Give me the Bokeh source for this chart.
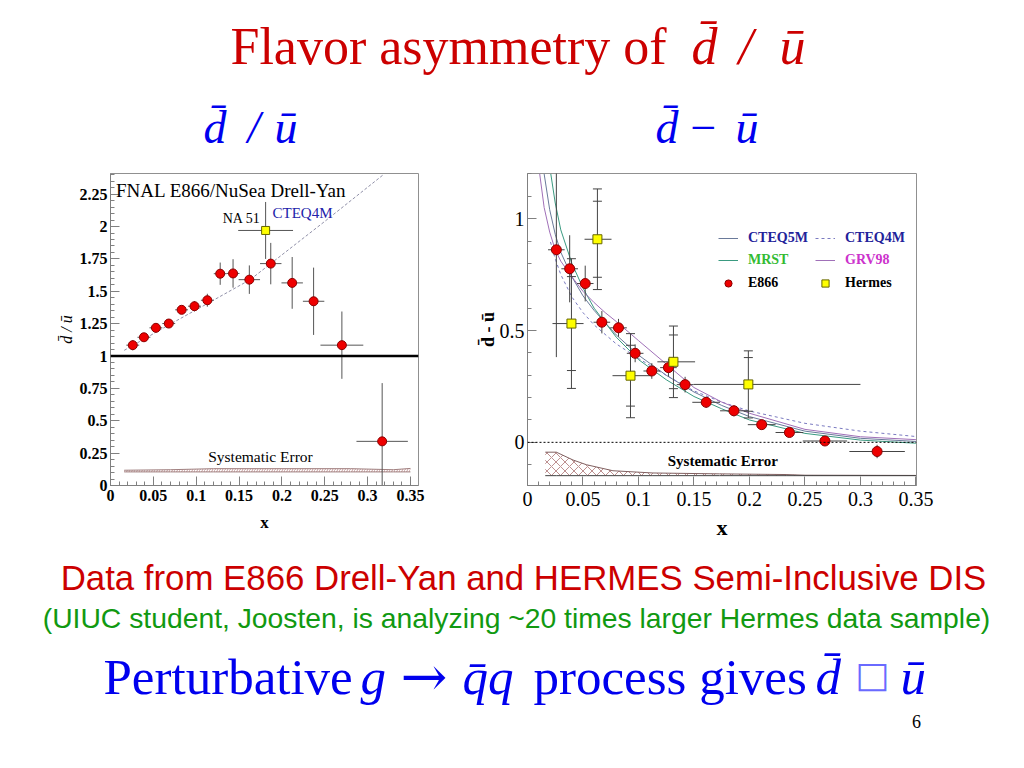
from bokeh.plotting import figure
from bokeh.models import (Range1d, Label, Span, FixedTicker, ColumnDataSource,
                          Legend, LegendItem)
from bokeh.layouts import column, row
from bokeh.embed import file_html
from bokeh.resources import INLINE

# ---------------- data ----------------
# left panel: dbar/ubar (E866)
l_x = [0.026, 0.039, 0.053, 0.068, 0.083, 0.098, 0.113, 0.128, 0.143, 0.162, 0.187, 0.212, 0.237, 0.270, 0.317]
l_y = [1.084, 1.145, 1.218, 1.251, 1.357, 1.385, 1.431, 1.636, 1.638, 1.590, 1.714, 1.565, 1.423, 1.084, 0.341]
l_yerr = [0.04, 0.03, 0.03, 0.03, 0.03, 0.04, 0.05, 0.086, 0.11, 0.11, 0.16, 0.20, 0.26, 0.26, 0.45]
l_xerr = [0.0075, 0.0075, 0.0075, 0.0075, 0.0075, 0.0075, 0.0075, 0.0075, 0.0075, 0.0125, 0.0125, 0.0125, 0.0125, 0.025, 0.03]
# NA51
na51_x = [0.181]
na51_y = [1.97]
na51_yerr = [0.22]
na51_xerr = [0.032]
# CTEQ4M ratio curve
l_cteq4m_x = [0.016, 0.068, 0.113, 0.163, 0.187, 0.25, 0.319]
l_cteq4m_y = [1.044, 1.24, 1.405, 1.59, 1.714, 2.04, 2.404]
# systematic error band (left)
l_sys_x = [0.016, 0.07, 0.12, 0.28, 0.33, 0.35]
l_sys_top = [0.118, 0.122, 0.13, 0.13, 0.122, 0.132]
l_sys_bot = [0.105, 0.105, 0.105, 0.105, 0.105, 0.105]

# right panel: dbar - ubar
r_x = [0.026, 0.038, 0.052, 0.067, 0.082, 0.097, 0.112, 0.127, 0.142, 0.161, 0.186, 0.211, 0.236, 0.268, 0.315]
r_y = [0.861, 0.776, 0.710, 0.537, 0.512, 0.398, 0.319, 0.334, 0.258, 0.179, 0.141, 0.079, 0.044, 0.006, -0.041]
r_yerr = [0.48, 0.15, 0.08, 0.05, 0.04, 0.04, 0.035, 0.04, 0.035, 0.025, 0.025, 0.02, 0.015, 0.015, 0.03]
r_xerr = [0.0075, 0.0075, 0.0075, 0.0075, 0.0075, 0.0075, 0.0075, 0.0075, 0.0075, 0.0125, 0.0125, 0.0125, 0.0125, 0.02, 0.025]
# Hermes
h_x = [0.0396, 0.063, 0.0928, 0.1315, 0.199]
h_y = [0.531, 0.908, 0.298, 0.36, 0.259]
h_stat = [0.21, 0.17, 0.136, 0.12, 0.12]
h_tot = [0.29, 0.225, 0.188, 0.16, 0.15]
h_xlo = [0.0225, 0.0514, 0.0766, 0.117, 0.1495]
h_xhi = [0.0505, 0.0757, 0.1117, 0.151, 0.30]
# parametrisations
grv98_x = [0.011, 0.015, 0.02, 0.025, 0.03, 0.04, 0.05, 0.06, 0.07, 0.08, 0.10, 0.125, 0.15, 0.175, 0.20, 0.25, 0.30, 0.35]
grv98_y = [1.20, 1.05, 0.94, 0.86, 0.81, 0.74, 0.675, 0.625, 0.58, 0.54, 0.455, 0.35, 0.245, 0.18, 0.13, 0.058, 0.025, 0.012]
cteq5m_x = [0.015, 0.02, 0.025, 0.03, 0.04, 0.05, 0.06, 0.08, 0.10, 0.125, 0.15, 0.175, 0.20, 0.25, 0.30, 0.35]
cteq5m_y = [1.20, 1.04, 0.93, 0.85, 0.74, 0.655, 0.59, 0.48, 0.39, 0.30, 0.225, 0.165, 0.115, 0.05, 0.018, 0.004]
mrst_x = [0.021, 0.025, 0.03, 0.04, 0.05, 0.06, 0.08, 0.10, 0.125, 0.15, 0.175, 0.20, 0.25, 0.30, 0.35]
mrst_y = [1.20, 1.07, 0.95, 0.80, 0.69, 0.60, 0.47, 0.37, 0.28, 0.205, 0.15, 0.10, 0.04, 0.01, -0.004]
cteq4m_x = [0.0207, 0.025, 0.03, 0.04, 0.05, 0.06, 0.08, 0.10, 0.125, 0.15, 0.175, 0.20, 0.25, 0.30, 0.35]
cteq4m_y = [0.896, 0.82, 0.75, 0.65, 0.58, 0.525, 0.44, 0.375, 0.30, 0.23, 0.18, 0.14, 0.085, 0.05, 0.026]
# systematic error band (right)
r_sys_x = [0.016, 0.026, 0.041, 0.053, 0.077, 0.113, 0.173, 0.233, 0.25, 0.35]
r_sys_top = [-0.044, -0.044, -0.079, -0.10, -0.127, -0.137, -0.141, -0.144, -0.147, -0.148]
r_sys_bot = [-0.149, -0.149, -0.149, -0.149, -0.149, -0.149, -0.149, -0.149, -0.149, -0.149]

# ticks
x_ticks = [0, 0.05, 0.1, 0.15, 0.2, 0.25, 0.3, 0.35]
x_tick_labels = ["0", "0.05", "0.1", "0.15", "0.2", "0.25", "0.3", "0.35"]
x_minor = [i * 0.01 for i in range(0, 37)]
l_y_ticks = [0, 0.25, 0.5, 0.75, 1, 1.25, 1.5, 1.75, 2, 2.25]
l_y_tick_labels = ["0", "0.25", "0.5", "0.75", "1", "1.25", "1.5", "1.75", "2", "2.25"]
l_y_minor = [i * 0.05 for i in range(0, 49)]
r_y_ticks = [0, 0.5, 1]
r_y_tick_labels = ["0", "0.5", "1"]
r_y_minor = [-0.2 + i * 0.1 for i in range(0, 15)]

SERIF = "Liberation Serif"
SANS = "Liberation Sans"
DBAR = "d\u0304"
UBAR = "\u016b"
QBAR = "q\u0304"


def canvas(w, h, x0, y0):
    p = figure(width=w, height=h, x_range=Range1d(x0, x0 + w), y_range=Range1d(y0 + h, y0),
               output_backend="svg", toolbar_location=None, min_border=0,
               x_axis_type=None, y_axis_type=None)
    p.outline_line_color = None
    p.background_fill_color = "white"
    p.border_fill_color = "white"
    return p


def lab(p, x, y, text, size, color, font=SERIF, style="normal", align="left", baseline="middle"):
    p.add_layout(Label(x=x, y=y, text=text, text_font=font, text_font_size=size,
                       text_color=color, text_font_style=style, text_align=align,
                       text_baseline=baseline))


# ---------------- top text canvas ----------------
top = canvas(1024, 160, 0, 0)
lab(top, 230, 46, "Flavor asymmetry of", "52px", "#cc0000")
lab(top, 691, 46, DBAR, "52px", "#cc0000", style="italic")
lab(top, 738, 46, "/", "52px", "#cc0000", style="italic")
lab(top, 779, 46, UBAR, "52px", "#cc0000", style="italic")
lab(top, 203, 127, DBAR, "46px", "#0000ee", style="italic")
lab(top, 247, 127, "/", "46px", "#0000ee", style="italic")
lab(top, 274, 127, UBAR, "46px", "#0000ee", style="italic")
lab(top, 655, 127, DBAR, "46px", "#0000ee", style="italic")
lab(top, 690, 127, "\u2212", "46px", "#0000ee")
lab(top, 735, 127, UBAR, "46px", "#0000ee", style="italic")


def style_axes(p, ysize, lsize, bold_ticks, ylab_size):
    for ax in (p.xaxis[0], p.yaxis[0]):
        ax.axis_line_color = "#808080"
        ax.major_tick_line_color = "#808080"
        ax.minor_tick_line_color = "#808080"
        ax.major_tick_in = 9
        ax.major_tick_out = 0
        ax.minor_tick_in = 4
        ax.minor_tick_out = 0
        ax.major_label_text_font = SERIF
        ax.major_label_text_font_size = ysize
        ax.major_label_text_font_style = "bold" if bold_ticks else "normal"
        ax.major_label_text_color = "black"
        ax.axis_label_text_font = SERIF
        ax.axis_label_text_color = "black"
    p.xaxis.axis_label_text_font_size = lsize
    p.xaxis.axis_label_text_font_style = "bold"
    p.yaxis.axis_label_text_font_size = ylab_size
    p.xgrid.visible = False
    p.ygrid.visible = False
    p.outline_line_color = "#909090"


# ---------------- left plot ----------------
left = figure(width=470, height=385, x_range=Range1d(0, 0.3594), y_range=Range1d(0, 2.41),
              output_backend="svg", toolbar_location=None,
              min_border_left=110, min_border_right=52, min_border_top=13, min_border_bottom=54)
style_axes(left, "16px", "17px", True, "16px")
left.xaxis.ticker = FixedTicker(ticks=x_ticks, minor_ticks=x_minor)
left.xaxis.major_label_overrides = dict(zip(x_ticks, x_tick_labels))
left.yaxis.ticker = FixedTicker(ticks=l_y_ticks, minor_ticks=l_y_minor)
left.yaxis.major_label_overrides = dict(zip(l_y_ticks, l_y_tick_labels))
left.xaxis.axis_label = "x"
left.yaxis.axis_label = DBAR + " / " + UBAR
left.xaxis.major_label_standoff = 4
left.yaxis.major_label_standoff = 3
left.xaxis.axis_label_standoff = 9
left.yaxis.axis_label_standoff = 2

left.varea(x=l_sys_x, y1=l_sys_bot, y2=l_sys_top, fill_alpha=0,
           hatch_pattern="right_diagonal_line", hatch_color="#b07070", hatch_scale=5, hatch_weight=0.7)
left.line(l_sys_x, l_sys_top, line_color="#a08080", line_width=1)
left.line(l_sys_x, l_sys_bot, line_color="#a08080", line_width=1)
left.add_layout(Span(location=1, dimension="width", line_color="black", line_width=2.5))
left.line(l_cteq4m_x, l_cteq4m_y, line_color="#9090a8", line_width=1, line_dash="3 2")

lsrc = ColumnDataSource(dict(x=l_x, y=l_y,
                             yl=[a - b for a, b in zip(l_y, l_yerr)], yh=[a + b for a, b in zip(l_y, l_yerr)],
                             xl=[a - b for a, b in zip(l_x, l_xerr)], xh=[a + b for a, b in zip(l_x, l_xerr)]))
left.segment(x0="x", y0="yl", x1="x", y1="yh", source=lsrc, line_color="#555555", line_width=1)
left.segment(x0="xl", y0="y", x1="xh", y1="y", source=lsrc, line_color="#555555", line_width=1)
nsrc = ColumnDataSource(dict(x=na51_x, y=na51_y,
                             yl=[a - b for a, b in zip(na51_y, na51_yerr)], yh=[a + b for a, b in zip(na51_y, na51_yerr)],
                             xl=[a - b for a, b in zip(na51_x, na51_xerr)], xh=[a + b for a, b in zip(na51_x, na51_xerr)]))
left.segment(x0="x", y0="yl", x1="x", y1="yh", source=nsrc, line_color="#555555", line_width=1)
left.segment(x0="xl", y0="y", x1="xh", y1="y", source=nsrc, line_color="#555555", line_width=1)
left.scatter("x", "y", source=lsrc, marker="circle", size=9, fill_color="#ee0000", line_color="#8a0000")
left.scatter("x", "y", source=nsrc, marker="square", size=8, fill_color="#ffff00", line_color="#666600")

lab(left, 0.0064, 2.28, "FNAL E866/NuSea Drell-Yan", "19px", "black")
lab(left, 0.153, 2.06, "NA 51", "14px", "black", align="center")
lab(left, 0.224, 2.106, "CTEQ4M", "15px", "#2222aa", align="center")
lab(left, 0.175, 0.227, "Systematic Error", "15.5px", "black", align="center")

# ---------------- right plot ----------------
right = figure(width=554, height=385, x_range=Range1d(0, 0.3505), y_range=Range1d(-0.193, 1.202),
               output_backend="svg", toolbar_location=None,
               min_border_left=57, min_border_right=108, min_border_top=7, min_border_bottom=60)
style_axes(right, "20px", "22px", False, "18px")
right.yaxis.axis_label_text_font_style = "bold"
right.xaxis.ticker = FixedTicker(ticks=x_ticks, minor_ticks=x_minor)
right.xaxis.major_label_overrides = dict(zip(x_ticks, x_tick_labels))
right.yaxis.ticker = FixedTicker(ticks=r_y_ticks, minor_ticks=r_y_minor)
right.yaxis.major_label_overrides = dict(zip(r_y_ticks, r_y_tick_labels))
right.xaxis.axis_label = "x"
right.yaxis.axis_label = DBAR + " - " + UBAR
right.xaxis.major_label_standoff = 6
right.yaxis.major_label_standoff = 3
right.xaxis.axis_label_standoff = 6
right.yaxis.axis_label_standoff = -1

right.varea(x=r_sys_x, y1=r_sys_bot, y2=r_sys_top, fill_alpha=0,
            hatch_pattern="diagonal_cross", hatch_color="#a06060", hatch_scale=9, hatch_weight=0.7)
right.line(r_sys_x, r_sys_top, line_color="#806060", line_width=1)
right.line(r_sys_x, r_sys_bot, line_color="#404040", line_width=1)
right.add_layout(Span(location=0, dimension="width", line_color="black", line_width=1, line_dash="2 2"))

r_cteq5m = right.line(cteq5m_x, cteq5m_y, line_color="#6a7a9a", line_width=1)
r_cteq4m = right.line(cteq4m_x, cteq4m_y, line_color="#7a7ac0", line_width=1, line_dash="3 3")
r_mrst = right.line(mrst_x, mrst_y, line_color="#3a9a80", line_width=1)
r_grv = right.line(grv98_x, grv98_y, line_color="#a070b8", line_width=1)

rsrc = ColumnDataSource(dict(x=r_x, y=r_y,
                             yl=[a - b for a, b in zip(r_y, r_yerr)], yh=[a + b for a, b in zip(r_y, r_yerr)],
                             xl=[a - b for a, b in zip(r_x, r_xerr)], xh=[a + b for a, b in zip(r_x, r_xerr)]))
right.segment(x0="x", y0="yl", x1="x", y1="yh", source=rsrc, line_color="#444444", line_width=1)
right.segment(x0="xl", y0="y", x1="xh", y1="y", source=rsrc, line_color="#444444", line_width=1)

hsrc = ColumnDataSource(dict(x=h_x, y=h_y,
                             tl=[a - b for a, b in zip(h_y, h_tot)], th=[a + b for a, b in zip(h_y, h_tot)],
                             sl=[a - b for a, b in zip(h_y, h_stat)], sh=[a + b for a, b in zip(h_y, h_stat)],
                             xl=h_xlo, xh=h_xhi))
right.segment(x0="x", y0="tl", x1="x", y1="th", source=hsrc, line_color="#444444", line_width=1)
right.segment(x0="xl", y0="y", x1="xh", y1="y", source=hsrc, line_color="#444444", line_width=1)
for col in ("tl", "th", "sl", "sh"):
    right.scatter("x", col, source=hsrc, marker="dash", size=9, line_color="#444444", line_width=1)

r_e866 = right.scatter("x", "y", source=rsrc, marker="circle", size=10, fill_color="#ee0000", line_color="#8a0000")
r_herm = right.scatter("x", "y", source=hsrc, marker="square", size=9, fill_color="#ffff00", line_color="#666600")

lab(right, 0.176, -0.083, "Systematic Error", "15px", "black", style="bold", align="center")


def leg(p, label, rend, loc, color):
    lg = Legend(items=[LegendItem(label=label, renderers=[rend])], location=loc,
                label_text_color=color, label_text_font=SERIF, label_text_font_style="bold",
                label_text_font_size="14px", background_fill_alpha=0, border_line_alpha=0,
                padding=0, margin=0, glyph_width=20, glyph_height=18, label_height=18,
                label_standoff=10, spacing=0)
    p.add_layout(lg)


leg(right, "CTEQ5M", r_cteq5m, (191, 238), "#22229a")
leg(right, "CTEQ4M", r_cteq4m, (288, 238), "#22229a")
leg(right, "MRST", r_mrst, (191, 216), "#33bb33")
leg(right, "GRV98", r_grv, (288, 216), "#cc33cc")
leg(right, "E866", r_e866, (191, 193), "black")
leg(right, "Hermes", r_herm, (288, 193), "black")

# ---------------- bottom text canvas ----------------
bot = canvas(1024, 223, 0, 545)
lab(bot, 523, 577, "Data from E866 Drell-Yan and HERMES Semi-Inclusive DIS", "34.8px", "#cc0000", font=SANS, align="center")
lab(bot, 516, 617, "(UIUC student, Joosten, is analyzing ~20 times larger Hermes data sample)", "28.3px", "#119911", font=SANS, align="center")
lab(bot, 103, 676, "Perturbative", "51px", "#0000ee")
lab(bot, 360, 676, "g", "51px", "#0000ee", style="italic")
lab(bot, 400, 676, "\u2192", "56px", "#0000ee", font="DejaVu Serif")
lab(bot, 462, 676, QBAR + "q", "51px", "#0000ee", style="italic")
lab(bot, 533, 676, "process gives", "51px", "#0000ee")
lab(bot, 815, 676, DBAR, "51px", "#0000ee", style="italic")
lab(bot, 855, 674, "\u25a1", "36px", "#6a6aff", font="DejaVu Sans")
lab(bot, 900, 676, UBAR, "51px", "#0000ee", style="italic")
lab(bot, 916, 721, "6", "18px", "black", align="center")

layout = column(top, row(left, right), bot)
open("out.html", "w").write(file_html(layout, INLINE))
